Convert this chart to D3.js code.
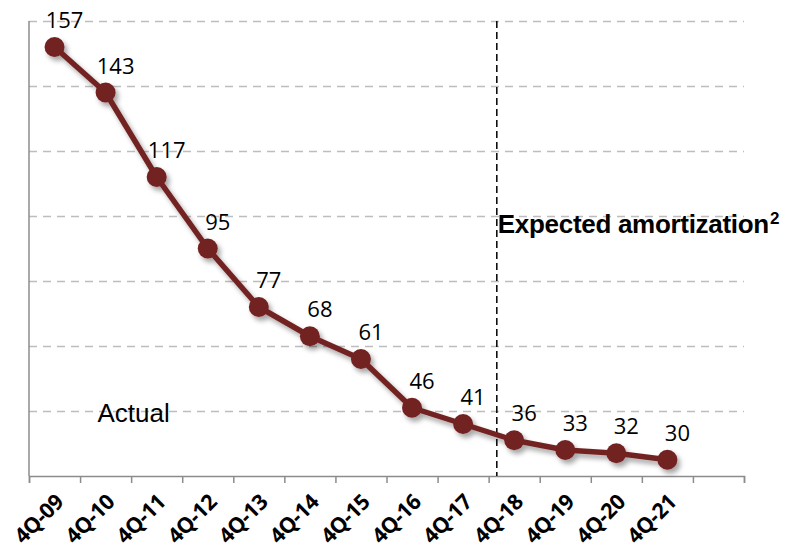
<!DOCTYPE html>
<html>
<head>
<meta charset="utf-8">
<script src="https://cdn.jsdelivr.net/npm/d3@7"></script>
<style>
  body { margin: 0; background: #fff; }
  svg { display: block; }
</style>
</head>
<body>
<script>
const width = 796,
      height = 550;

// Chart data
const quarters = ["4Q-09", "4Q-10", "4Q-11", "4Q-12", "4Q-13", "4Q-14", "4Q-15",
                  "4Q-16", "4Q-17", "4Q-18", "4Q-19", "4Q-20", "4Q-21"];
const balances = [157, 143, 117, 95, 77, 68, 61, 46, 41, 36, 33, 32, 30];
const gridValues = [45, 65, 85, 105, 125, 145, 165];
const firstExpected = "4Q-18";

const margin = {top: 21, right: 52, bottom: 74, left: 29};
const innerW = width - margin.left - margin.right,
      innerH = height - margin.top - margin.bottom;

const lineColor = "#732424";

// one empty slot after the last quarter
const x = d3.scaleLinear()
    .domain([0, quarters.length + 1])
    .range([0, innerW]);
const bw = x(1) - x(0);
const cx = i => x(i + 0.5);

const y = d3.scaleLinear()
    .domain([25, 165])
    .range([innerH, 0]);

const svg = d3.select("body").append("svg")
    .attr("width", width)
    .attr("height", height);

const defs = svg.append("defs");
const shadow = defs.append("filter")
    .attr("id", "shadow")
    .attr("x", "-20%").attr("y", "-20%")
    .attr("width", "140%").attr("height", "140%");
shadow.append("feDropShadow")
    .attr("dx", 3).attr("dy", 4)
    .attr("stdDeviation", 2.5)
    .attr("flood-color", "#000")
    .attr("flood-opacity", 0.35);

const g = svg.append("g")
    .attr("transform", `translate(${margin.left},${margin.top})`);

// gridlines
g.append("g")
    .attr("class", "grid")
    .call(d3.axisLeft(y).tickValues(gridValues).tickSize(-innerW).tickFormat(""))
    .call(s => s.select(".domain").remove())
    .call(s => s.selectAll("line")
        .attr("stroke", "#bdbdbd")
        .attr("stroke-width", 1.3)
        .attr("stroke-dasharray", "8,6"));

// x axis with ticks between categories
g.append("g")
    .attr("transform", `translate(0,${innerH})`)
    .call(d3.axisBottom(x).tickValues(d3.range(quarters.length + 2)).tickSize(7).tickFormat(""))
    .call(s => s.select(".domain").attr("stroke", "#8c8c8c").attr("stroke-width", 1.5))
    .call(s => s.selectAll("line").attr("stroke", "#8c8c8c").attr("stroke-width", 1.5));

// y axis line
g.append("line")
    .attr("x1", 0).attr("x2", 0)
    .attr("y1", 0).attr("y2", innerH)
    .attr("stroke", "#8c8c8c")
    .attr("stroke-width", 1.5);

// category labels
g.append("g")
    .selectAll("text")
    .data(quarters)
    .join("text")
    .attr("transform", (d, i) => `translate(${cx(i) + 5},${innerH + 22}) rotate(-45)`)
    .attr("text-anchor", "end")
    .attr("dy", "0.35em")
    .style("font-family", "'Open Sans', sans-serif")
    .style("font-weight", "bold")
    .style("font-size", "21.5px")
    .style("letter-spacing", "-0.4px")
    .text(d => d);

// actual / expected separator
const sepX = x(quarters.indexOf(firstExpected)) + bw * 0.16;
g.append("line")
    .attr("x1", sepX).attr("x2", sepX)
    .attr("y1", 0).attr("y2", innerH)
    .attr("stroke", "#000")
    .attr("stroke-width", 1.5)
    .attr("stroke-dasharray", "7,4");

const expected = g.append("text")
    .attr("x", sepX + 1)
    .attr("y", y(105) + 17)
    .style("font-family", "'Liberation Sans', Arial, sans-serif")
    .style("font-weight", "bold")
    .style("font-size", "26px")
    .style("letter-spacing", "-0.3px")
    .text("Expected amortization");
expected.append("tspan")
    .attr("dy", -9)
    .attr("dx", 1)
    .style("font-size", "17px")
    .text("2");

g.append("text")
    .attr("x", cx(0) + 43)
    .attr("y", y(45) + 11)
    .style("font-family", "'Liberation Sans', Arial, sans-serif")
    .style("font-size", "26px")
    .text("Actual");

// line and points
const line = d3.line()
    .x((d, i) => cx(i))
    .y(d => y(d));

const series = g.append("g").attr("filter", "url(#shadow)");

series.append("path")
    .datum(balances)
    .attr("d", line)
    .attr("fill", "none")
    .attr("stroke", lineColor)
    .attr("stroke-width", 5.5)
    .attr("stroke-linejoin", "round");

series.selectAll("circle")
    .data(balances)
    .join("circle")
    .attr("cx", (d, i) => cx(i))
    .attr("cy", d => y(d))
    .attr("r", 10)
    .attr("fill", lineColor);

// value labels
g.append("g")
    .selectAll("text")
    .data(balances)
    .join("text")
    .attr("x", (d, i) => cx(i) + 10)
    .attr("y", d => y(d) - 19)
    .attr("text-anchor", "middle")
    .style("font-family", "'Open Sans', sans-serif")
    .style("font-size", "22px")
    .text(d => d);
</script>
</body>
</html>
